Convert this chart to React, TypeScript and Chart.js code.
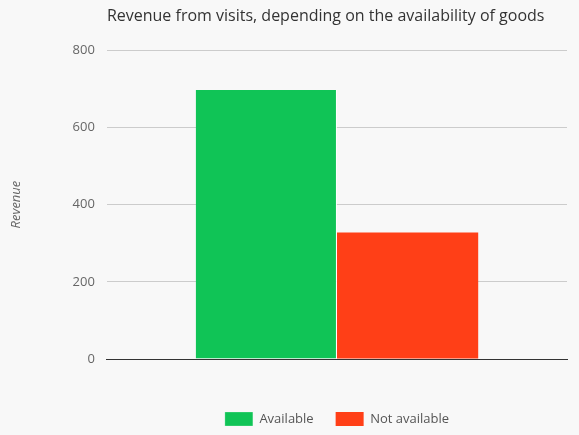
import { useEffect, useRef } from 'react'
import { Chart, registerables } from 'chart.js'

Chart.register(...registerables)

const categories = ['']
const availableValues = [697]
const notAvailableValues = [328]
const seriesNames = ['Available', 'Not available']
const yTicks = [0, 200, 400, 600, 800]

export default function App() {
  const canvasRef = useRef<HTMLCanvasElement>(null)

  useEffect(() => {
    document.body.style.margin = '0'
    document.body.style.background = '#f8f8f8'
    if (!canvasRef.current) return
    const ctx = canvasRef.current.getContext('2d')
    if (!ctx) return

    const chart = new Chart(ctx, {
      type: 'bar',
      data: {
        labels: categories,
        datasets: [
          {
            label: seriesNames[0],
            data: availableValues,
            backgroundColor: '#10c456',
            borderColor: '#ffffff',
            borderWidth: { right: 1 },
            borderSkipped: false,
          },
          {
            label: seriesNames[1],
            data: notAvailableValues,
            backgroundColor: '#ff3f17',
            borderWidth: 0,
          },
        ],
      },
      options: {
        animation: false,
        responsive: true,
        maintainAspectRatio: false,
        layout: { padding: { top: 6, right: 12, bottom: -1, left: 8 } },
        font: { family: '"Open Sans", sans-serif' },
        datasets: { bar: { categoryPercentage: 0.614, barPercentage: 1 } },
        plugins: {
          title: {
            display: true,
            text: 'Revenue from visits, depending on the availability of goods',
            align: 'start',
            fullSize: false,
            color: '#333333',
            font: { family: '"Open Sans", sans-serif', size: 16, weight: 'normal' },
            padding: { top: 1, bottom: 24 },
          },
          legend: {
            position: 'bottom',
            fullSize: false,
            labels: {
              boxWidth: 28,
              boxHeight: 14,
              color: '#555555',
              font: { family: '"Open Sans", sans-serif', size: 13 },
              padding: 22,
            },
          },
          tooltip: { enabled: false },
        },
        scales: {
          x: {
            grid: { display: false },
            ticks: { display: false },
            border: { display: true, color: '#333333', width: 1 },
            afterFit: (axis) => {
              axis.height = 31
            },
          },
          y: {
            min: 0,
            max: 800,
            afterBuildTicks: (axis) => {
              axis.ticks = yTicks.map((v) => ({ value: v }))
            },
            grid: { color: '#cccccc', drawTicks: false },
            border: { display: false },
            ticks: {
              color: '#666666',
              padding: 12,
              font: { family: '"Open Sans", sans-serif', size: 13 },
            },
            title: {
              display: true,
              text: 'Revenue',
              color: '#666666',
              font: { family: '"Open Sans", sans-serif', size: 13, style: 'italic' },
              padding: { top: 0, bottom: 37 },
            },
          },
        },
      },
    })

    return () => chart.destroy()
  }, [])

  return (
    <div style={{ width: 579, height: 435, background: '#f8f8f8' }}>
      <canvas ref={canvasRef}></canvas>
    </div>
  )
}
